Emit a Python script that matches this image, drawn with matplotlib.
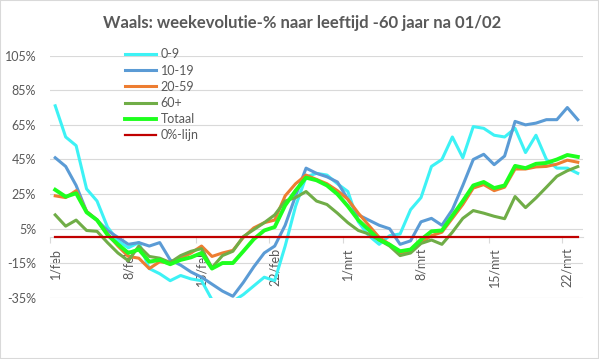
import matplotlib
matplotlib.use("Agg")
import matplotlib.pyplot as plt
from matplotlib.patches import Rectangle
from matplotlib.ticker import FuncFormatter

plt.rcParams['font.family'] = ['Lato', 'DejaVu Sans']

# ==============================
# data (weekevolutie in %, 1/feb .. 23/mrt)
# ==============================
leeftijd_0_9 = [76, 58, 53, 28, 21, 6, -2, -6, -3, -18, -21, -25, -22, -24, -25,
                -36, -38, -37, -33, -28, -23, -25, -5, 18, 35, 37, 36, 31, 26.5, 9,
                1, -4, 1, 2, 16, 23, 41, 45, 58, 46, 64, 63, 59, 58, 63, 49, 59,
                45, 40, 40, 37]
leeftijd_10_19 = [46, 41, 30, 15, 10, 4, 0, -4, -3, -5, -3, -13, -16, -20, -23,
                  -27, -31, -34, -26, -17, -9, -5, 7, 24, 40, 37, 35, 32, 22, 13,
                  10, 7, 5, -4, -2, 9, 11, 7, 16, 30, 45, 48, 42, 47, 67, 65, 66,
                  68, 68, 75, 68]
leeftijd_20_59 = [24, 23, 27, 15, 10, 2, -5, -11, -12, -18, -14, -15, -12, -9, -5,
                  -11, -9, -7.5, 0, 5.5, 8.5, 10, 24, 31, 36, 33.5, 31, 27, 22, 14,
                  7, 0, -4, -9.5, -8, -3, 1, 3, 11, 19, 28.5, 30.5, 27, 29, 39.5,
                  39.5, 40.7, 41, 42.3, 44.6, 43.4]
leeftijd_60plus = [13, 6.5, 10, 4, 3.5, -3, -9, -13.5, -5, -11, -12, -14.5, -10.5,
                   -8, -6.5, -17.5, -10.5, -8, 0.5, 4.5, 8.5, 13, 21, 23, 26.5, 21,
                   19, 14, 8.5, 4, 2, -1.5, -5, -10.5, -9, -3.5, -1.5, -4, 3, 11,
                   15.5, 14, 12.2, 10.8, 23.6, 17.2, 22.8, 29, 35.3, 38.5, 40.9]
totaal = [27.5, 23.5, 25.5, 14.5, 10, 1.5, -4, -9, -7, -14, -13, -15.5, -13, -11.5,
          -9, -18, -14.8, -14.8, -8, -1, 4, 6, 18.5, 27, 34.5, 33, 30, 25, 18, 10,
          4.4, -1.4, -4.2, -8, -7, -1.3, 3.5, 4, 12.5, 21, 30, 32, 28.5, 30, 41.3,
          40, 42.5, 43, 45, 47.6, 46.5]
nul_lijn = [0] * len(totaal)

tick_labels = ["1/feb", "8/feb", "15/feb", "22/feb", "1/mrt", "8/mrt", "15/mrt", "22/mrt"]
y_ticks = [-35, -15, 5, 25, 45, 65, 85, 105]

series = [
    ("0-9", leeftijd_0_9, "#3DF2F5", 2.2),
    ("10-19", leeftijd_10_19, "#5B9BD5", 2.2),
    ("20-59", leeftijd_20_59, "#ED7D31", 2.2),
    ("60+", leeftijd_60plus, "#70AD47", 2.2),
    ("Totaal", totaal, "#1EFF1E", 2.8),
    ("0%-lijn", nul_lijn, "#C00000", 1.6),
]

# ==============================
# figuur
# ==============================
fig = plt.figure(figsize=(5.99, 3.59), dpi=100)
ax = fig.add_axes([50 / 599, 1 - 298 / 359, 533 / 599, (298 - 55.6) / 359])

x = list(range(len(totaal)))
for naam, waarden, kleur, lw in series:
    ax.plot(x, waarden, color=kleur, lw=lw, label=naam, solid_joinstyle="round")

ax.set_xlim(-0.5, len(totaal) - 0.5)
ax.set_ylim(-35, 105)

ax.set_yticks(y_ticks)
ax.yaxis.set_major_formatter(FuncFormatter(lambda v, p: f"{v:.0f}%"))
ax.yaxis.grid(True, color="#D9D9D9", lw=0.8)
ax.set_axisbelow(True)

ax.set_xticks(list(range(0, len(totaal), 7)))
ax.set_xticklabels(tick_labels)
ax.set_xticks([i - 0.5 for i in range(0, len(totaal), 7)], minor=True)
ax.tick_params(axis="x", which="major", length=0, pad=7.5, labelsize=9,
               labelcolor="#595959", labelrotation=90)
ax.tick_params(axis="x", which="minor", length=4, color="#D9D9D9", width=0.8)
ax.tick_params(axis="y", length=0, pad=10, labelsize=9, labelcolor="#595959")
for lab in ax.get_xticklabels():
    lab.set_verticalalignment("top")
    lab.set_horizontalalignment("center")

for s in ["top", "right", "left"]:
    ax.spines[s].set_visible(False)
ax.spines["bottom"].set_position(("data", 0))
ax.spines["bottom"].set_color("#D9D9D9")
ax.spines["bottom"].set_linewidth(0.8)
ax.spines["bottom"].set_zorder(0.5)

leg = ax.legend(loc="upper left", bbox_to_anchor=(125 / 599, 1 - 48.5 / 359),
                bbox_transform=fig.transFigure, frameon=False, fontsize=9,
                handlelength=2.5, handletextpad=0.35, labelspacing=0.33,
                borderpad=0, borderaxespad=0)
for t in leg.get_texts():
    t.set_color("#595959")

fig.text(0.504, 1 - 23 / 359, "Waals: weekevolutie-% naar leeftijd -60 jaar na 01/02",
         ha="center", va="center", fontsize=12, fontweight="bold", color="#595959")

fig.patches.append(Rectangle((0, 0), 1, 1, transform=fig.transFigure, fill=False,
                             edgecolor="#D9D9D9", lw=1.5))

fig.savefig("out.png", dpi=100)
